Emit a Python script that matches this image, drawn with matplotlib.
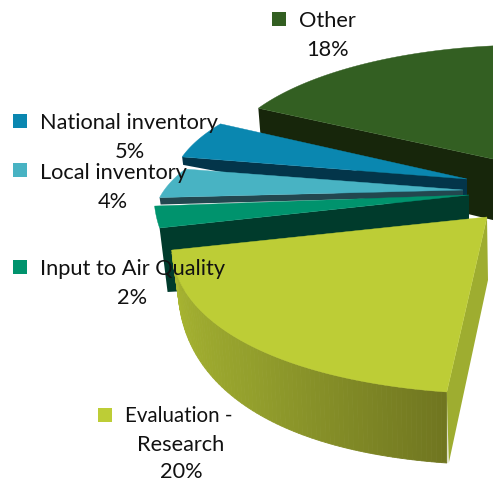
import numpy as np
import matplotlib
matplotlib.use("Agg")
import matplotlib.pyplot as plt
from matplotlib.patches import Polygon, Rectangle

# slices in drawing order round the pie, front to back (the rest of the pie is cropped off)
labels = ["Evaluation -\nResearch", "Input to Air Quality", "Local inventory", "National inventory", "Other"]
values = [20, 2, 4, 5, 18]

top_colors = ["#BDCD36", "#00936D", "#48B3C3", "#0A87B0", "#335F22"]
wall_colors = ["#9EAD30", "#003B2C", "#22474F", "#03354A", "#17260B"]

# per slice look of the exploded 3d pie: apex x, apex y, radius x, radius y
apex_x = [487, 469, 463, 467, 530]
apex_y = [217, 195, 190, 179, 167]
rad_x = [320.7, 315, 304, 290, 310]
rad_y = [176.4, 176, 120, 118, 122]
# back slices get smaller away from the viewer
shrink = [0, 0, 0.07, 0.03, 0]

# depth of the radial wall at the apex and at the rim
depth_apex = [63, 80, 6, 39, 62]
depth_rim = [71, 64, 7, 8, 25]

# label positions and sizes
label_x = [125, 40, 40, 40, 299]
label_y = [416, 269, 173, 123, 21]
label_size = [14.8, 15.7, 15.7, 15.7, 15.7]
marker_x = [98, 13, 13, 13, 272]
marker_y = [408, 260, 163, 114, 12]
pct_x = [181, 132, 113, 130, 327]
pct_y = [472.5, 298, 202, 152, 50]

start_angle = 97.2

plt.rcParams['font.family'] = ['Lato', 'DejaVu Sans']

fig = plt.figure(figsize=(4.93, 4.82), dpi=100)
ax = fig.add_axes([0, 0, 1, 1])
ax.set_xlim(0, 493)
ax.set_ylim(482, 0)
ax.axis('off')

spans = np.array(values) * 3.6
starts = start_angle + np.concatenate([[0], np.cumsum(spans)[:-1]])


def rim(i, deg):
    t = np.radians(deg)
    u = (deg - starts[i]) / spans[i]
    grow = 1 - shrink[i] * u
    if i == 0:
        # the front slice bulges towards its left corner
        grow = 1 + 0.07 * u * np.sin(np.pi * u)
    return apex_x[i] + grow * rad_x[i] * np.cos(t), apex_y[i] + grow * rad_y[i] * np.sin(t)


# back to front, so nearer slices cover the walls behind them
for i in [4, 3, 2, 1, 0]:
    a0 = starts[i]
    a1 = a0 + spans[i]
    arc = np.linspace(a0, a1, 80)
    xs, ys = rim(i, arc)
    ax_, ay_ = apex_x[i], apex_y[i]

    if i == 0:
        # outer rim with its shading, dark at the right and light at the left
        tt = (arc - a0) / spans[0]
        d = 71 - 36 * tt ** 3
        shift = 6 * tt
        r = np.interp(tt, [0, 0.5, 1], [112, 146, 172])
        g = np.interp(tt, [0, 0.5, 1], [118, 158, 185])
        b = np.interp(tt, [0, 0.5, 1], [32, 44, 50])
        for k in range(len(arc) - 1):
            quad = [(xs[k], ys[k]), (xs[k + 1], ys[k + 1]),
                    (xs[k + 1] + shift[k + 1], ys[k + 1] + d[k + 1]),
                    (xs[k] + shift[k], ys[k] + d[k])]
            c = (r[k] / 255, g[k] / 255, b[k] / 255)
            ax.add_patch(Polygon(quad, closed=True, fc=c, ec=c, lw=0.6))
        # side wall at the start of the slice
        wall = [(ax_, ay_), (ax_ + 1, ay_ + depth_apex[0]),
                (xs[0] + 2, ys[0] + depth_rim[0]), (xs[0], ys[0])]
        ax.add_patch(Polygon(wall, closed=True, fc=wall_colors[0], ec='none'))
    elif i == 4:
        wall = [(ax_, ay_), (xs[0], ys[0]), (xs[0] + 2, ys[0] + depth_rim[i]),
                (468, 214), (ax_, ay_ + depth_apex[i])]
        ax.add_patch(Polygon(wall, closed=True, fc=wall_colors[i], ec='none'))
    else:
        wall = [(ax_, ay_), (xs[0], ys[0]),
                (xs[0] + (8 if i == 1 else 1), ys[0] + depth_rim[i]),
                (ax_, ay_ + depth_apex[i])]
        ax.add_patch(Polygon(wall, closed=True, fc=wall_colors[i], ec='none'))

    face = np.column_stack([np.r_[ax_, xs], np.r_[ay_, ys]])
    ax.add_patch(Polygon(face, closed=True, fc=top_colors[i], ec=top_colors[i], lw=0.3))

# labels sit on top of the pie
for i, name in enumerate(labels):
    ax.add_patch(Rectangle((marker_x[i], marker_y[i]), 14, 14, fc=top_colors[i], ec='none'))
    lines = name.split("\n")
    ax.text(label_x[i], label_y[i], lines[0], fontsize=label_size[i], color='#111111', ha='left', va='center')
    if len(lines) > 1:
        ax.text(pct_x[i], label_y[i] + 29, lines[1], fontsize=15.7, color='#111111', ha='center', va='center')
    ax.text(pct_x[i], pct_y[i], f"{values[i]}%", fontsize=15.7, color='#111111', ha='center', va='center')

fig.savefig("out.png", dpi=100)
